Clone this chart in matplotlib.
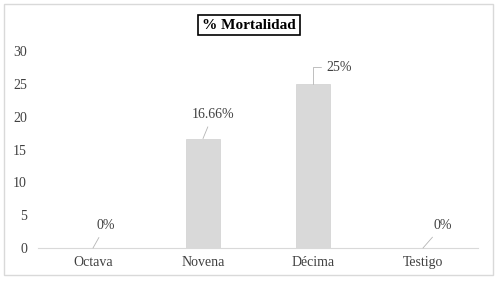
import matplotlib.pyplot as plt
from matplotlib.patches import Rectangle

categories = ['Octava', 'Novena', 'Décima', 'Testigo']
mortalidad = [0, 16.66, 25, 0]
etiquetas = ['0%', '16.66%', '25%', '0%']
yticks = [0, 5, 10, 15, 20, 25, 30]

plt.rcParams['font.family'] = ['Liberation Serif', 'DejaVu Serif']

fig = plt.figure(figsize=(4.98, 2.81), dpi=100)
ax = fig.add_axes([0.0763, 0.1174, 0.8835, 0.7011])

x = range(len(categories))
ax.bar(x, mortalidad, width=0.31, color='#d9d9d9', edgecolor='#d0d0d0', linewidth=0.5)

ax.set_xlim(-0.5, 3.5)
ax.set_ylim(0, 30)
ax.set_yticks(yticks)
ax.set_xticks(list(x))
ax.set_xticklabels(categories)
ax.tick_params(axis='both', length=0, labelsize=10, colors='#404040')
ax.tick_params(axis='y', pad=8)
ax.tick_params(axis='x', pad=6)
for s in ['top', 'right', 'left']:
    ax.spines[s].set_visible(False)
ax.spines['bottom'].set_color('#d9d9d9')

# etiquetas de datos con lineas guia
offsets = [(9, 16), (7, 17), (19, 12), (14, 16)]
for i, (v, lab) in enumerate(zip(mortalidad, etiquetas)):
    cs = 'angle,angleA=0,angleB=90,rad=0' if i == 2 else 'arc3'
    ax.annotate(lab, xy=(i, v), xytext=offsets[i], textcoords='offset points',
                ha='center', va='center', fontsize=10, color='#404040',
                arrowprops=dict(arrowstyle='-', color='#b4b4b4', lw=0.6,
                                connectionstyle=cs, shrinkA=2, shrinkB=0))

fig.text(0.5, 0.911, '% Mortalidad', ha='center', va='center', fontsize=11,
         fontweight='bold', color='black',
         bbox=dict(boxstyle='square,pad=0.25', facecolor='white', edgecolor='black', lw=1.2))

fig.patches.append(Rectangle((4 / 498, 6 / 281), 489 / 498, 271 / 281,
                             transform=fig.transFigure, fill=False,
                             edgecolor='#d9d9d9', lw=1))

fig.savefig('out.png', dpi=100)
